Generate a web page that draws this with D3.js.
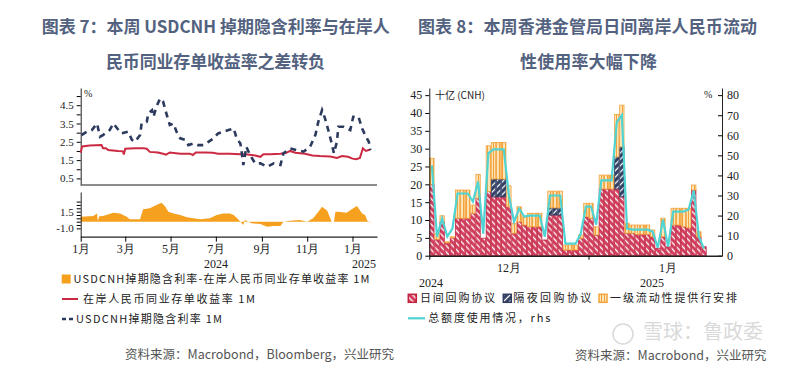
<!DOCTYPE html>
<html>
<head>
<meta charset="utf-8">
<script src="https://cdn.jsdelivr.net/npm/d3@7"></script>
<style>
  body { margin: 0; background: #fff; }
</style>
</head>
<body>
<div id="chart"></div>
<script>
// ---- left chart: onshore NCD yield vs USDCNH swap implied rate ----
var ncdDates = ["2024-01-01","2024-01-03","2024-01-13","2024-01-29","2024-01-31","2024-02-04","2024-02-07","2024-02-20","2024-02-27","2024-02-28",
  "2024-03-01","2024-03-14","2024-03-25","2024-03-30","2024-04-03","2024-04-14","2024-04-21","2024-04-25","2024-04-30","2024-05-14",
  "2024-05-27","2024-05-31","2024-06-04","2024-06-17","2024-06-27","2024-07-04","2024-07-20","2024-08-03","2024-08-13","2024-08-23",
  "2024-08-30","2024-09-03","2024-09-12","2024-09-26","2024-10-04","2024-10-09","2024-10-16","2024-10-29","2024-11-08","2024-11-18",
  "2024-12-02","2024-12-11","2024-12-18","2024-12-26","2025-01-01","2025-01-06","2025-01-11","2025-01-15","2025-01-19","2025-01-25"]
var ncdValues = [1.90,2.25,2.30,2.32,2.15,2.15,2.05,2.00,1.98,1.80,
  2.12,2.15,2.15,2.12,1.95,1.92,1.85,1.80,1.92,1.85,
  1.85,1.78,1.92,1.92,1.90,1.85,1.85,1.82,1.80,1.75,
  1.68,1.82,1.82,1.85,1.90,2.00,1.90,1.85,1.75,1.72,
  1.70,1.62,1.72,1.68,1.58,1.55,1.62,2.15,2.00,2.08]

var swapDates = ["2024-01-02","2024-01-09","2024-01-16","2024-01-23","2024-01-27","2024-01-31","2024-02-09","2024-02-14","2024-02-21","2024-02-25",
  "2024-03-05","2024-03-10","2024-03-14","2024-03-21","2024-03-23","2024-03-30","2024-04-01","2024-04-06","2024-04-08","2024-04-12",
  "2024-04-17","2024-04-21","2024-04-26","2024-04-30","2024-05-05","2024-05-09","2024-05-14","2024-05-21","2024-05-25","2024-06-01",
  "2024-06-07","2024-06-14","2024-06-21","2024-06-28","2024-07-04","2024-07-11","2024-07-18","2024-07-25","2024-07-29","2024-08-03",
  "2024-08-05","2024-08-07","2024-08-11","2024-08-16","2024-08-23","2024-08-30","2024-09-08","2024-09-17","2024-09-26","2024-09-30",
  "2024-10-09","2024-10-18","2024-10-27","2024-11-05","2024-11-12","2024-11-16","2024-11-21","2024-11-25","2024-11-30","2024-12-04",
  "2024-12-07","2024-12-11","2024-12-13","2024-12-20","2024-12-29","2025-01-02","2025-01-09","2025-01-14","2025-01-18","2025-01-23","2025-01-25"]
var swapValues = [2.87,3.05,3.14,3.50,2.78,2.87,3.14,3.50,3.14,2.96,
  3.05,2.60,2.50,2.87,3.50,3.60,4.05,4.23,3.87,4.42,
  4.87,4.69,3.96,3.42,3.50,3.05,2.69,2.60,2.32,2.41,
  2.32,2.32,2.50,2.69,2.96,3.05,3.14,3.23,2.69,2.41,
  1.87,1.23,2.23,1.78,1.32,1.32,1.14,1.32,1.23,1.87,
  2.14,2.05,1.96,2.23,2.87,3.60,4.23,3.78,3.05,2.41,
  1.87,2.50,3.32,3.32,3.14,3.87,3.87,3.23,2.87,2.50,2.05]

var spreadDates = ["2024-01-01","2024-01-18","2024-01-23","2024-01-24","2024-01-26","2024-01-31","2024-02-14","2024-02-23","2024-03-03","2024-03-07",
  "2024-03-21","2024-03-25","2024-04-03","2024-04-12","2024-04-19","2024-04-24","2024-04-28","2024-05-05","2024-05-14","2024-05-23",
  "2024-06-10","2024-06-23","2024-07-02","2024-07-11","2024-07-20","2024-07-25","2024-07-31","2024-08-05","2024-08-07","2024-08-09",
  "2024-08-14","2024-08-18","2024-08-30","2024-09-08","2024-09-17","2024-09-26","2024-09-30","2024-10-09","2024-10-22","2024-11-01",
  "2024-11-09","2024-11-16","2024-11-21","2024-11-28","2024-12-04","2024-12-07","2024-12-09","2024-12-13","2024-12-24","2025-01-02",
  "2025-01-07","2025-01-14","2025-01-18","2025-01-21","2025-01-25"]
var spreadValues = [0.75,0.85,1.24,0.10,0.80,0.85,1.34,1.24,0.75,0.35,
  0.35,1.84,1.99,2.49,2.84,2.24,1.49,1.24,1.00,0.65,
  0.35,0.50,1.00,1.24,1.24,1.00,0.35,-0.25,-0.50,0.25,
  0.00,-0.25,-0.35,-0.75,-0.65,-0.65,0.00,0.15,0.25,0.00,
  0.50,1.49,2.24,1.64,0.00,0.00,1.49,1.49,1.34,1.99,
  2.34,1.24,1.00,0.15,-0.15]

var topTicks = [0.5,1.0,1.5,2.0,2.5,3.0,3.5,4.0,4.5,5.0]
var topLabels = [0.5,1.5,2.5,3.5,4.5]
var botTicks = [-1.0,-0.5,0,0.5,1.0,1.5,2.0,2.5,3.0]
var botLabels = [-1.0,1.5]

// ---- right chart: HKMA intraday RMB liquidity facility ----
var repoStart = new Date(2024, 11, 1)
var intraday = [20.0,4.6,9.5,3.6,5.0,10.5,10.5,10.5,11.9,16.1,4.9,18.0,16.5,16.5,16.5,13.7,6.3,9.5,8.6,8.1,8.1,8.1,4.4,11.4,11.4,11.4,1.6,1.6,1.6,4.9,
  10.9,10.5,5.8,18.7,18.7,18.7,18.7,16.5,6.3,6.3,6.0,6.0,6.0,5.3,2.1,5.3,2.5,8.6,8.6,8.1,7.8,18.4,5.3,2.5]
var overnight = [0,0,0,0,0,0,0,0,0,0,0,0,5.0,5.0,5.0,0,0,0,0,0,0,0,0,2.0,2.0,2.0,0,0,0,0,
  0,0,0,0,0,0,9.0,14.0,0,0,0,0,0,0,0,0,0,0,0,0,0,0,0,0]
var primary = [7.3,1.6,1.7,0.3,0.3,7.9,7.9,7.9,2.3,6.7,0,12.8,10.2,10.2,10.2,5.9,2.8,4.2,2.3,3.8,3.8,3.8,0,4.7,4.7,4.7,1.4,1.4,1.4,0.9,
  3.8,4.2,2.3,3.9,3.9,3.9,11.9,11.7,2.8,2.3,2.6,2.6,2.6,1.9,0,5.2,0,4.7,4.7,5.2,5.5,1.4,1.4,0]
var usage = [45,9.5,18.5,9.5,13.5,31,31,31,27,37,11,51,53,53,53,30,17,23.5,19.5,20,20,20,9.5,30,30,30,6,6,6,11,
  24.5,24.5,15.5,37.5,37.5,37.5,66.5,70,13.5,13,13,13,13,12,4,18,4.5,22,22,22,23,32.5,9.5,3.5]
var leftTicksR = [0,5,10,15,20,25,30,35,40,45]
var rightTicksR = [0,10,20,30,40,50,60,70,80]

var parse = d3.timeParse("%Y-%m-%d")
var cjk = "Noto Sans CJK SC"
var serif = "Liberation Serif"

var svg = d3.select("#chart").append("svg")
    .attr("width", 800)
    .attr("height", 369)
    .style("background", "#fff")

// titles
var titleColor = "#53627f"
var titles = [
  [41.7, 33, "图表 7：本周 USDCNH 掉期隐含利率与在岸人", 348],
  [106, 68, "民币同业存单收益率之差转负", 219],
  [418, 33, "图表 8：本周香港金管局日间离岸人民币流动", 339],
  [520, 68, "性使用率大幅下降", 137]
]
titles.forEach(function(t) {
  svg.append("text")
     .attr("x", t[0]).attr("y", t[1])
     .attr("font-family", cjk).attr("font-size", "17px").attr("font-weight", "bold")
     .attr("fill", titleColor)
     .attr("textLength", t[3]).attr("lengthAdjust", "spacing")
     .text(t[2])
})

// ================= left chart =================
var xL = d3.scaleTime().domain([new Date(2024, 0, 1), new Date(2025, 1, 3)]).range([80.7, 377])
var yTop = d3.scaleLinear().domain([0.14, 5.44]).range([185, 88])
var yBot = d3.scaleLinear().domain([-2.24, 4.43]).range([236.7, 192])

var gTop = svg.append("g")
gTop.append("g")
    .attr("transform", "translate(80.7,0)")
    .call(d3.axisLeft(yTop).tickValues(topTicks).tickSize(4).tickSizeOuter(0)
      .tickFormat(function(d) { return topLabels.indexOf(d) >= 0 ? d.toFixed(1) : "" }))
    .call(function(g) {
      g.selectAll("text").attr("font-family", serif).attr("font-size", "11px").attr("fill", "#222")
      g.select(".domain").attr("stroke", "#222")
    })
gTop.append("line")
    .attr("x1", 80.7).attr("x2", 377).attr("y1", 185).attr("y2", 185)
    .attr("stroke", "#666").attr("stroke-width", 1.5)
gTop.append("text").attr("x", 84).attr("y", 97)
    .attr("font-family", serif).attr("font-size", "10px").attr("fill", "#222").text("%")

var ncd = ncdDates.map(function(d, i) { return { date: parse(d), value: ncdValues[i] } })
var swap = swapDates.map(function(d, i) { return { date: parse(d), value: swapValues[i] } })
var spread = spreadDates.map(function(d, i) { return { date: parse(d), value: spreadValues[i] } })

var lineTop = d3.line().x(function(d) { return xL(d.date) }).y(function(d) { return yTop(d.value) })

gTop.append("path").datum(ncd)
    .attr("d", lineTop)
    .attr("fill", "none").attr("stroke", "#cc2a42").attr("stroke-width", 2)
gTop.append("path").datum(swap)
    .attr("d", lineTop)
    .attr("fill", "none").attr("stroke", "#2c3a5e").attr("stroke-width", 2.6)
    .attr("stroke-dasharray", "6,5")

// spread panel
var gBot = svg.append("g")
var area = d3.area()
    .x(function(d) { return xL(d.date) })
    .y0(yBot(0))
    .y1(function(d) { return yBot(d.value) })
gBot.append("path").datum(spread).attr("d", area).attr("fill", "#f5a11f")

gBot.append("g")
    .attr("transform", "translate(80.7,0)")
    .call(d3.axisLeft(yBot).tickValues(botTicks).tickSize(4).tickSizeOuter(0)
      .tickFormat(function(d) { return botLabels.indexOf(d) >= 0 ? d.toFixed(1) : "" }))
    .call(function(g) {
      g.selectAll("text").attr("font-family", serif).attr("font-size", "11px").attr("fill", "#222")
      g.select(".domain").attr("stroke", "#222")
    })

gBot.append("g")
    .attr("transform", "translate(0,236.7)")
    .call(d3.axisBottom(xL).ticks(d3.timeMonth.every(2)).tickSize(5).tickSizeOuter(0)
      .tickFormat(function(d) { return (d.getMonth() + 1) + "月" }))
    .call(function(g) {
      g.selectAll("text").attr("font-family", serif).attr("font-size", "12px").attr("fill", "#222")
      g.select(".domain").attr("stroke", "#222").attr("stroke-width", 1.3)
    })
gBot.append("text").attr("x", 216).attr("y", 268).attr("text-anchor", "middle")
    .attr("font-family", serif).attr("font-size", "12px").attr("fill", "#222").text("2024")
gBot.append("text").attr("x", 364).attr("y", 268).attr("text-anchor", "middle")
    .attr("font-family", serif).attr("font-size", "12px").attr("fill", "#222").text("2025")

// left legend
var legL = svg.append("g")
legL.append("rect").attr("x", 61.7).attr("y", 274.5).attr("width", 9).attr("height", 9).attr("fill", "#f5a11f")
legL.append("line").attr("x1", 62).attr("x2", 78).attr("y1", 299).attr("y2", 299)
    .attr("stroke", "#cc2a42").attr("stroke-width", 2)
legL.append("line").attr("x1", 62).attr("x2", 73).attr("y1", 319).attr("y2", 319)
    .attr("stroke", "#2c3a5e").attr("stroke-width", 2.6).attr("stroke-dasharray", "4,3")
var legLText = [
  [73.5, 283, "USDCNH掉期隐含利率-在岸人民币同业存单收益率  1M", 296],
  [83, 303, "在岸人民币同业存单收益率  1M", 172],
  [76, 323, "USDCNH掉期隐含利率  1M", 146]
]
legLText.forEach(function(t) {
  legL.append("text").attr("x", t[0]).attr("y", t[1])
      .attr("font-family", cjk).attr("font-size", "11px").attr("fill", "#222")
      .attr("textLength", t[3]).attr("lengthAdjust", "spacing")
      .text(t[2])
})

// ================= right chart =================
var defs = svg.append("defs")
function hatch(id, bg, stroke, angle, w, sw) {
  var p = defs.append("pattern")
      .attr("id", id)
      .attr("patternUnits", "userSpaceOnUse")
      .attr("width", w).attr("height", w)
      .attr("patternTransform", "rotate(" + angle + ")")
  p.append("rect").attr("width", w).attr("height", w).attr("fill", bg)
  p.append("line").attr("x1", w / 2).attr("x2", w / 2).attr("y1", 0).attr("y2", w)
      .attr("stroke", stroke).attr("stroke-width", sw)
}
hatch("redHatch", "#d2385a", "#fff", -45, 4.5, 1.4)
hatch("navyHatch", "#2e3c62", "#fff", 45, 4.5, 1.3)
hatch("orangeHatch", "#fde4b8", "#f3a23a", 0, 3, 1)

var repoDates = d3.timeDay.range(repoStart, d3.timeDay.offset(repoStart, intraday.length))
var xR = d3.scaleTime().domain([new Date(2024, 11, 1), new Date(2025, 0, 27)]).range([429.3, 722])
var yR = d3.scaleLinear().domain([0, 47]).range([255.7, 88])
var yR2 = d3.scaleLinear().domain([0, 47 * 80 / 45]).range([255.7, 88])

var keys = ["intraday", "overnight", "primary"]
var fills = { intraday: "url(#redHatch)", overnight: "url(#navyHatch)", primary: "url(#orangeHatch)" }
var strokes = { intraday: "#c0223f", overnight: "#2e3c62", primary: "#f3a23a" }
var rows = repoDates.map(function(d, i) {
  return { date: d, intraday: intraday[i], overnight: overnight[i], primary: primary[i] }
})
var stacked = d3.stack().keys(keys)(rows)

var gR = svg.append("g")
stacked.forEach(function(layer) {
  gR.append("g").selectAll("rect")
    .data(layer.filter(function(d) { return d[1] - d[0] > 0 }))
    .enter().append("rect")
    .attr("x", function(d) { return xR(d.data.date) + 0.4 })
    .attr("width", function(d) { return xR(d3.timeDay.offset(d.data.date, 1)) - xR(d.data.date) - 0.8 })
    .attr("y", function(d) { return yR(d[1]) })
    .attr("height", function(d) { return yR(d[0]) - yR(d[1]) })
    .attr("fill", fills[layer.key])
    .attr("stroke", strokes[layer.key])
    .attr("stroke-width", 0.8)
})

var usageLine = d3.line()
    .x(function(d, i) { return xR(repoDates[i]) + (xR(d3.timeDay.offset(repoDates[i], 1)) - xR(repoDates[i])) / 2 })
    .y(function(d) { return yR2(d) })
gR.append("path").datum(usage)
    .attr("d", usageLine)
    .attr("fill", "none").attr("stroke", "#4fd3d3").attr("stroke-width", 2.2)

gR.append("g")
    .attr("transform", "translate(429.3,0)")
    .call(d3.axisLeft(yR).tickValues(leftTicksR).tickSize(4).tickSizeOuter(0))
    .call(function(g) {
      g.selectAll("text").attr("font-family", serif).attr("font-size", "12px").attr("fill", "#222")
      g.select(".domain").attr("stroke", "#222")
    })
gR.append("g")
    .attr("transform", "translate(722,0)")
    .call(d3.axisRight(yR2).tickValues(rightTicksR).tickSize(-4).tickSizeOuter(0).tickPadding(5))
    .call(function(g) {
      g.selectAll("text").attr("font-family", serif).attr("font-size", "12px").attr("fill", "#222")
      g.select(".domain").attr("stroke", "#222")
    })
gR.append("g")
    .attr("transform", "translate(0,255.7)")
    .call(d3.axisBottom(xR).tickValues([new Date(2024, 11, 1), new Date(2025, 0, 1)]).tickSize(4).tickSizeOuter(0)
      .tickFormat(""))
    .call(function(g) {
      g.select(".domain").attr("stroke", "#222").attr("stroke-width", 1.5)
    })

var monthLabels = [[new Date(2024, 11, 16, 12), "12月"], [new Date(2025, 0, 16, 12), "1月"]]
monthLabels.forEach(function(m) {
  gR.append("text").attr("x", xR(m[0])).attr("y", 272).attr("text-anchor", "middle")
    .attr("font-family", serif).attr("font-size", "12px").attr("fill", "#222").text(m[1])
})
gR.append("text").attr("x", 431).attr("y", 286.5).attr("text-anchor", "middle")
  .attr("font-family", serif).attr("font-size", "12px").attr("fill", "#222").text("2024")
gR.append("text").attr("x", 652).attr("y", 286.5).attr("text-anchor", "middle")
  .attr("font-family", serif).attr("font-size", "12px").attr("fill", "#222").text("2025")

gR.append("text").attr("x", 435).attr("y", 99)
  .attr("font-family", cjk).attr("font-size", "10px").attr("fill", "#222").text("十亿 (CNH)")
gR.append("text").attr("x", 704).attr("y", 98)
  .attr("font-family", serif).attr("font-size", "10px").attr("fill", "#222").text("%")

// right legend
var legR = svg.append("g")
var legItems = [
  [408.3, "intraday", 420, "日间回购协议", 75],
  [503.3, "overnight", 513.3, "隔夜回购协议", 78],
  [599, "primary", 610, "一级流动性提供行安排", 127]
]
legItems.forEach(function(it) {
  legR.append("rect").attr("x", it[0]).attr("y", 294.3).attr("width", 8).attr("height", 8)
      .attr("fill", fills[it[1]]).attr("stroke", strokes[it[1]]).attr("stroke-width", 1.5)
  legR.append("text").attr("x", it[2]).attr("y", 302.3)
      .attr("font-family", cjk).attr("font-size", "11px").attr("fill", "#222")
      .attr("textLength", it[4]).attr("lengthAdjust", "spacing")
      .text(it[3])
})
legR.append("line").attr("x1", 408).attr("x2", 425).attr("y1", 318.3).attr("y2", 318.3)
    .attr("stroke", "#4fd3d3").attr("stroke-width", 2.2)
legR.append("text").attr("x", 428.3).attr("y", 322.3)
    .attr("font-family", cjk).attr("font-size", "11px").attr("fill", "#222")
    .attr("textLength", 122).attr("lengthAdjust", "spacing")
    .text("总额度使用情况，rhs")

// watermark
var wm = svg.append("g").attr("opacity", 0.55)
wm.append("circle").attr("cx", 623).attr("cy", 334).attr("r", 10)
  .attr("fill", "none").attr("stroke", "#bbb").attr("stroke-width", 1.5)
wm.append("text").attr("x", 643).attr("y", 339)
  .attr("font-family", cjk).attr("font-size", "20px").attr("fill", "#bbb")
  .text("雪球：鲁政委")

// sources
svg.append("text").attr("x", 125).attr("y", 359)
  .attr("font-family", cjk).attr("font-size", "12.5px").attr("fill", "#555")
  .text("资料来源：Macrobond，Bloomberg，兴业研究")
svg.append("text").attr("x", 575).attr("y", 360)
  .attr("font-family", cjk).attr("font-size", "12.5px").attr("fill", "#555")
  .text("资料来源：Macrobond，兴业研究")
</script>
</body>
</html>
